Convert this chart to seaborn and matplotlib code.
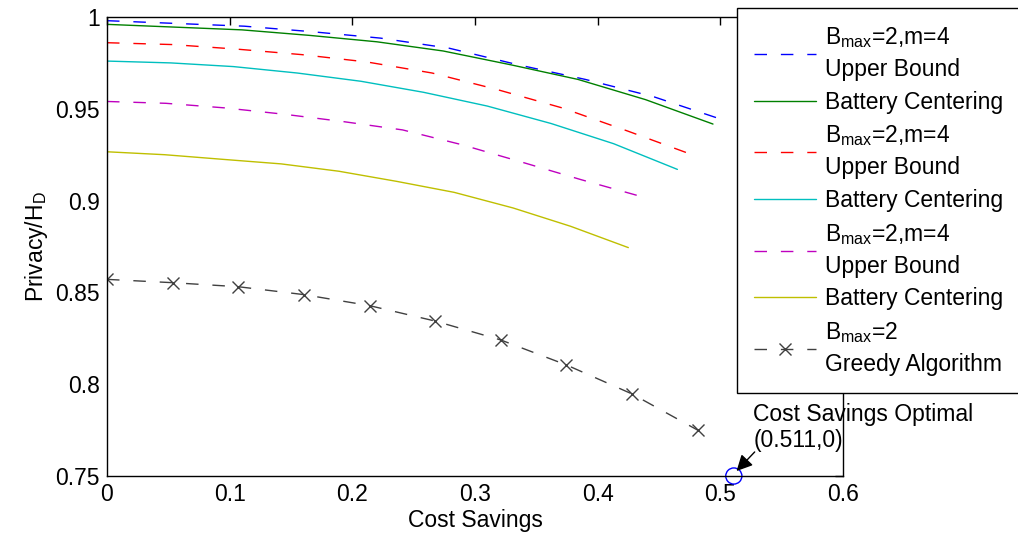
import matplotlib
matplotlib.use("Agg")
import matplotlib.pyplot as plt
import seaborn as sns
import pandas as pd
from matplotlib.ticker import FormatStrFormatter

# curve data
ub1_x = [0, 0.056, 0.112, 0.167, 0.223, 0.279, 0.335, 0.390, 0.446, 0.502]
ub1_y = [0.998, 0.9965, 0.995, 0.992, 0.9885, 0.983, 0.974, 0.966, 0.9565, 0.944]
bc1_x = [0, 0.055, 0.110, 0.165, 0.220, 0.274, 0.329, 0.384, 0.439, 0.494]
bc1_y = [0.996, 0.9945, 0.993, 0.990, 0.9865, 0.9815, 0.974, 0.966, 0.955, 0.9417]
ub2_x = [0, 0.053, 0.106, 0.159, 0.212, 0.265, 0.318, 0.371, 0.424, 0.477]
ub2_y = [0.986, 0.985, 0.9825, 0.9795, 0.9755, 0.9695, 0.9605, 0.9505, 0.938, 0.925]
bc2_x = [0, 0.052, 0.103, 0.155, 0.207, 0.258, 0.310, 0.362, 0.413, 0.465]
bc2_y = [0.976, 0.975, 0.973, 0.9695, 0.965, 0.959, 0.9515, 0.942, 0.931, 0.917]
ub3_x = [0, 0.048, 0.096, 0.145, 0.193, 0.241, 0.289, 0.338, 0.386, 0.434]
ub3_y = [0.954, 0.953, 0.9505, 0.947, 0.943, 0.9385, 0.9305, 0.921, 0.9115, 0.9025]
bc3_x = [0, 0.047, 0.094, 0.142, 0.189, 0.236, 0.283, 0.331, 0.378, 0.425]
bc3_y = [0.9266, 0.925, 0.9225, 0.920, 0.916, 0.9105, 0.9045, 0.896, 0.886, 0.8744]
greedy_x = [0, 0.0535, 0.107, 0.1605, 0.214, 0.2675, 0.321, 0.3745, 0.428, 0.4815]
greedy_y = [0.8571, 0.8553, 0.8531, 0.8488, 0.8428, 0.8344, 0.8241, 0.8105, 0.7947, 0.775]
opt_x = [0.511]
opt_y = [0.75]

ub_label = "B$_{max}$=2,m=4\nUpper Bound"
bc_label = "Battery Centering"
greedy_label = "B$_{max}$=2\nGreedy Algorithm"

sns.set_style("white")
plt.rcParams["font.family"] = ["Liberation Sans", "DejaVu Sans"]
plt.rcParams["mathtext.fontset"] = "custom"
plt.rcParams["mathtext.rm"] = "Liberation Sans"
plt.rcParams["mathtext.it"] = "Liberation Sans"
plt.rcParams["font.size"] = 16.5
for key in ["text.color", "axes.labelcolor", "xtick.color", "ytick.color"]:
    plt.rcParams[key] = "black"

fig = plt.figure(figsize=(10.18, 5.4), dpi=100)
ax = fig.add_axes([0.1051, 0.1185, 0.7230, 0.8500])

dash = (0, (9, 10))
series = [
    (ub1_x, ub1_y, "#0000ff", dash, ub_label),
    (bc1_x, bc1_y, "#008000", "-", bc_label),
    (ub2_x, ub2_y, "#ff0000", dash, ub_label),
    (bc2_x, bc2_y, "#00bfbf", "-", bc_label),
    (ub3_x, ub3_y, "#bf00bf", dash, ub_label),
    (bc3_x, bc3_y, "#bfbf00", "-", bc_label),
]
handles = []
for xs, ys, col, ls, lab in series:
    df = pd.DataFrame({"x": xs, "y": ys})
    sns.lineplot(data=df, x="x", y="y", ax=ax, color=col, lw=1.0,
                 sort=False, estimator=None)
    ln = ax.lines[-1]
    ln.set_linestyle(ls)
    handles.append(ln)

gdf = pd.DataFrame({"x": greedy_x, "y": greedy_y})
sns.lineplot(data=gdf, x="x", y="y", ax=ax, color="#404040", lw=1.0,
             sort=False, estimator=None, marker="x", markersize=9,
             markeredgewidth=1.0, markeredgecolor="#404040")
gl = ax.lines[-1]
gl.set_linestyle(dash)
handles.append(gl)

odf = pd.DataFrame({"x": opt_x, "y": opt_y})
sns.scatterplot(data=odf, x="x", y="y", ax=ax, marker="o", s=135,
                facecolor="none", edgecolor="#0000ff", linewidth=1.0)
for c in ax.collections:
    c.set_clip_on(False)

ax.annotate("", xy=(0.5132, 0.7527), xytext=(0.528, 0.7631),
            arrowprops=dict(arrowstyle="-|>", color="k", lw=1.0,
                            mutation_scale=24, shrinkA=0, shrinkB=0))
ax.text(0.527, 0.7895, "Cost Savings Optimal\n(0.511,0)", ha="left", va="top",
        fontsize=16.5, linespacing=1.15)

ax.set_xlim(0, 0.6)
ax.set_ylim(0.75, 1.0)
ax.set_xticks([0, 0.1, 0.2, 0.3, 0.4, 0.5, 0.6])
ax.set_yticks([0.75, 0.8, 0.85, 0.9, 0.95, 1.0])
ax.xaxis.set_major_formatter(FormatStrFormatter("%g"))
ax.yaxis.set_major_formatter(FormatStrFormatter("%g"))
ax.tick_params(direction="in", length=6, width=1, top=True, right=True,
               labelsize=16.5, pad=5, colors="k")
for sp in ax.spines.values():
    sp.set_visible(True)
    sp.set_color("k")
    sp.set_linewidth(1.0)
ax.set_xlabel("Cost Savings", fontsize=16.5, labelpad=2)
ax.set_ylabel("Privacy/H$_D$", fontsize=16.5, labelpad=4)

labels = [ub_label, bc_label, ub_label, bc_label, ub_label, bc_label, greedy_label]
leg = ax.legend(handles, labels, loc="upper left",
                bbox_to_anchor=(737 / 1018, 1 - 8 / 540),
                bbox_transform=fig.transFigure, frameon=True, fancybox=False,
                edgecolor="k", framealpha=1, handlelength=2.7, handletextpad=0.4,
                borderpad=0.75, labelspacing=0.42, borderaxespad=0,
                fontsize=16.5)
leg.get_frame().set_linewidth(1.0)
for t in leg.get_texts():
    t.set_linespacing(1.45)
    t.set_color("black")

fig.savefig("out.png", dpi=100)
